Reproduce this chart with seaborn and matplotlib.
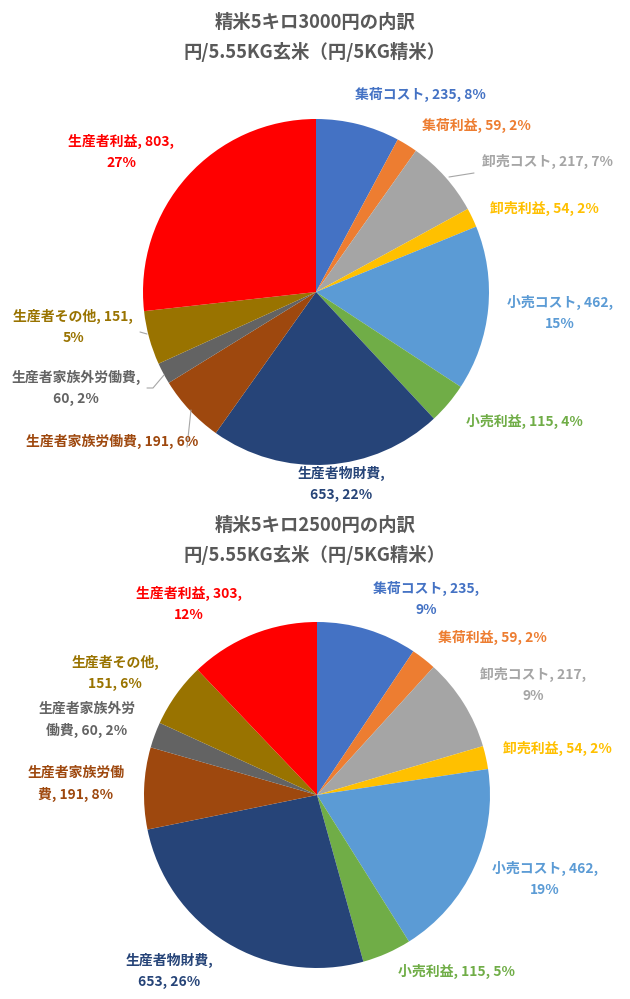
import numpy as np
import matplotlib
matplotlib.use("Agg")
import matplotlib.pyplot as plt
import seaborn as sns

sns.set_theme(style="white")
plt.rcParams["font.family"] = ["Noto Sans CJK JP", "DejaVu Sans"]

# data
categories = ["集荷コスト", "集荷利益", "卸売コスト", "卸売利益", "小売コスト", "小売利益",
              "生産者物財費", "生産者家族労働費", "生産者家族外労働費", "生産者その他", "生産者利益"]
values_3000 = [235, 59, 217, 54, 462, 115, 653, 191, 60, 151, 803]
values_2500 = [235, 59, 217, 54, 462, 115, 653, 191, 60, 151, 303]
pct_3000 = [8, 2, 7, 2, 15, 4, 22, 6, 2, 5, 27]
pct_2500 = [9, 2, 9, 2, 19, 5, 26, 8, 2, 6, 12]
titles = ["精米5キロ3000円の内訳\n円/5.55KG玄米（円/5KG精米）",
          "精米5キロ2500円の内訳\n円/5.55KG玄米（円/5KG精米）"]

colors = ["#4472C4", "#ED7D31", "#A5A5A5", "#FFC000", "#5B9BD5", "#70AD47",
          "#264478", "#9E480E", "#636363", "#997300", "#FF0000"]

# label layout: (x px, y px, text template)  {n}=name {v}=value {p}=pct
layout_3000 = [
    (420, 94, "{n}, {v}, {p}%"),
    (476, 125, "{n}, {v}, {p}%"),
    (547, 161, "{n}, {v}, {p}%"),
    (544, 208, "{n}, {v}, {p}%"),
    (560, 313, "{n}, {v},\n{p}%"),
    (524, 421, "{n}, {v}, {p}%"),
    (341, 484, "{n},\n{v}, {p}%"),
    (112, 441, "{n}, {v}, {p}%"),
    (76, 388, "{n},\n{v}, {p}%"),
    (73, 327, "{n}, {v},\n{p}%"),
    (121, 152, "{n}, {v},\n{p}%"),
]
layout_2500 = [
    (426, 599, "{n}, {v},\n{p}%"),
    (492, 637, "{n}, {v}, {p}%"),
    (533, 685, "{n}, {v},\n{p}%"),
    (557, 748, "{n}, {v}, {p}%"),
    (545, 879, "{n}, {v},\n{p}%"),
    (457, 971, "{n}, {v}, {p}%"),
    (169, 971, "{n},\n{v}, {p}%"),
    (76, 784, "生産者家族労働\n費, {v}, {p}%"),
    (87, 720, "生産者家族外労\n働費, {v}, {p}%"),
    (115, 673, "{n},\n{v}, {p}%"),
    (189, 604, "{n}, {v},\n{p}%"),
]
# leader lines (pixel coords) for the first pie
leaders_3000 = [
    [(449, 177), (474, 173)],
    [(140, 332), (147, 334)],
    [(147, 388), (153, 388), (164, 375)],
    [(187, 447), (191, 410)],
]

W, H = 630, 999
fig = plt.figure(figsize=(W / 100, H / 100), dpi=100)

pies = [
    (values_3000, pct_3000, layout_3000, titles[0], (316, 292), 173, [22, 52], leaders_3000),
    (values_2500, pct_2500, layout_2500, titles[1], (317, 795), 173, [525, 555], []),
]

for vals, pcts, layout, title, (cx, cy), r, title_y, leaders in pies:
    ax = fig.add_axes([(cx - r) / W, (H - cy - r) / H, 2 * r / W, 2 * r / H])
    ax.pie(vals, colors=colors, startangle=90, counterclock=False,
           wedgeprops=dict(linewidth=0))
    ax.set_xlim(-1, 1)
    ax.set_ylim(-1, 1)
    ax.set_aspect("equal")
    ax.axis("off")

    def px(x, y):
        return (x - cx) / r, (cy - y) / r

    for name, v, p, col, (lx, ly, tmpl) in zip(categories, vals, pcts, colors, layout):
        tx, ty = px(lx, ly)
        ax.text(tx, ty, tmpl.format(n=name, v=v, p=p), color=col, fontsize=10,
                fontweight="bold", ha="center", va="center", linespacing=1.65)

    for seg in leaders:
        pts = np.array([px(x, y) for x, y in seg])
        ax.plot(pts[:, 0], pts[:, 1], color="#A6A6A6", lw=0.8, clip_on=False)

    for i, line in enumerate(title.split("\n")):
        fig.text(0.5, 1 - title_y[i] / H, line, ha="center", va="center",
                 fontsize=13.2, fontweight="bold", color="#595959")

fig.savefig("out.png", dpi=100, facecolor="white")
